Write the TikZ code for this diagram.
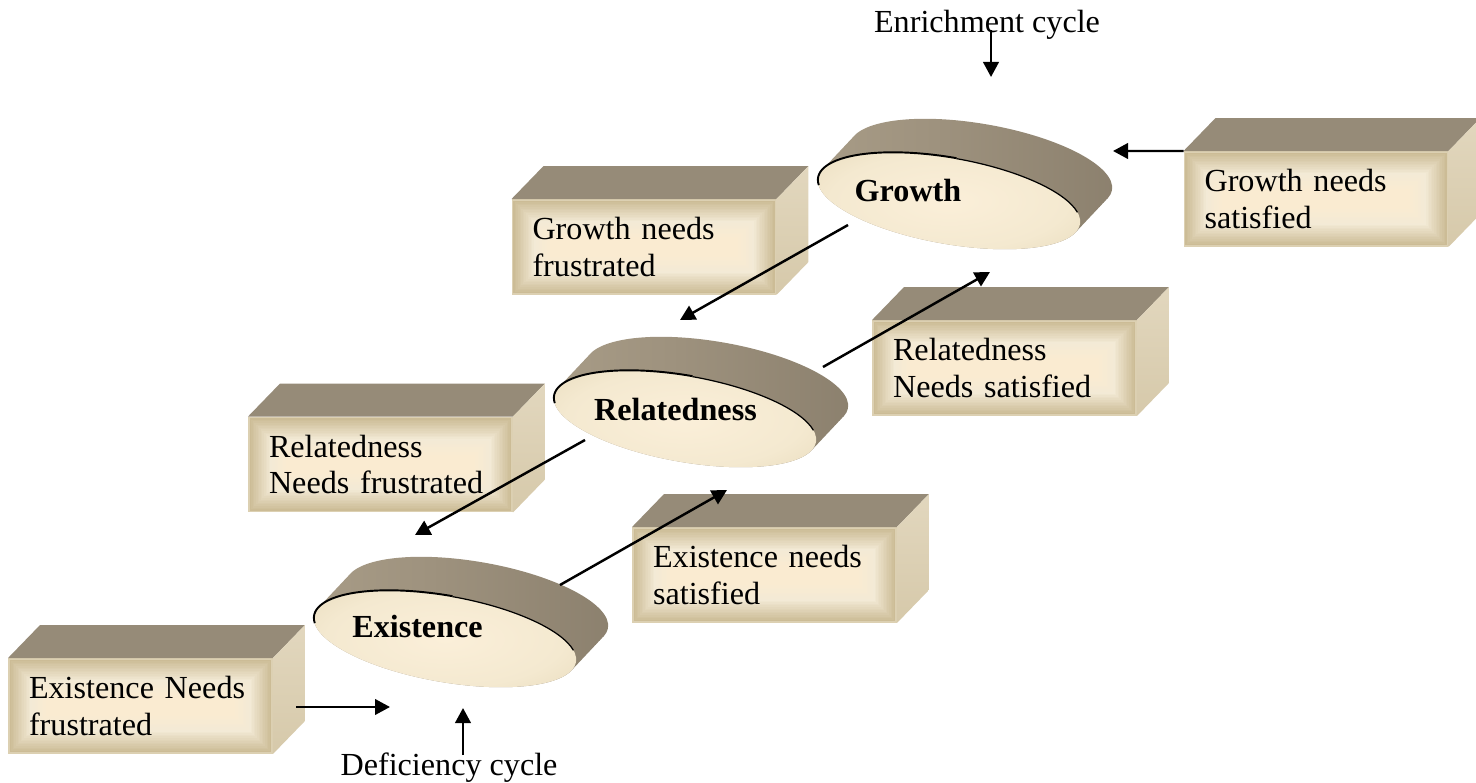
\documentclass[tikz,border=0pt]{standalone}
\usepackage{fontspec}
\setmainfont{Liberation Serif}
\usetikzlibrary{arrows.meta,calc}

% palette
\definecolor{topface}{RGB}{150,139,120}
\definecolor{sideface}{RGB}{226,215,190}
\definecolor{sidefacelo}{RGB}{214,201,170}
\definecolor{frontrim}{RGB}{220,208,178}
\definecolor{frontedge}{RGB}{204,188,150}
\definecolor{frontin}{RGB}{243,234,214}
\definecolor{frontmid}{RGB}{250,235,209}
\definecolor{facec}{RGB}{251,239,217}
\definecolor{facem}{RGB}{244,233,208}
\definecolor{facee}{RGB}{226,212,178}
\definecolor{bandA}{RGB}{212,201,176}
\definecolor{bandB}{RGB}{174,162,140}
\definecolor{bandC}{RGB}{158,146,126}
\definecolor{bandD}{RGB}{132,121,103}
\definecolor{bandE}{RGB}{152,141,120}

\pgfdeclareradialshading{discface}{\pgfpointorigin}{color(0bp)=(facec); color(22bp)=(facem); color(44bp)=(facee); color(50bp)=(facee)}
\pgfdeclarehorizontalshading{discband}{100bp}{color(0bp)=(bandA); color(14bp)=(bandB); color(45bp)=(bandC); color(86bp)=(bandD); color(100bp)=(bandE)}

\tikzset{
  boxfront/.style={rectangle, minimum width=5.3cm, minimum height=1.92cm,
    text width=4.46cm, inner xsep=0.42cm, inner ysep=0pt, outer sep=0pt,
    align=left, font=\fontsize{18.3}{20.8}\selectfont,
    path picture={
      \fill[frontrim] (path picture bounding box.south west) rectangle (path picture bounding box.north east);
      \foreach \i in {1,...,24}{
        \pgfmathsetmacro\p{\i<15 ? (\i-1)/13*100 : (\i-14)/10*100}
        \ifnum\i<15 \colorlet{ringc}{frontin!\p!frontedge}\else\colorlet{ringc}{frontmid!\p!frontin}\fi
        \fill[ringc] ([shift={(\i*1.6,\i*1.6)}]path picture bounding box.north west)
          rectangle ([shift={(-\i*1.6,-\i*1.6)}]path picture bounding box.south east);
      }
    }},
  disclabel/.style={font=\fontsize{18.3}{20.8}\selectfont\bfseries, inner sep=0pt, anchor=base},
  caption/.style={font=\fontsize{18.3}{20.8}\selectfont, inner sep=0pt, anchor=base},
  flow/.style={line width=1.4pt, -{Triangle[length=0.3cm, width=0.31cm]}},
}

% top and right faces of a box whose front face is node #1
\newcommand\boxsides[1]{%
  \fill[topface] (#1.north west) -- ++(32,-33) -- ($(#1.north east)+(32,-33)$) -- (#1.north east) -- cycle;
  \shade[top color=sideface, bottom color=sidefacelo] (#1.north east) -- ++(32,-33)
    -- ($(#1.south east)+(32,-33)$) -- (#1.south east) -- cycle;
}

% tilted disc: #1 name, #2 centre
\newcommand\disc[2]{%
  \coordinate (#1) at #2;
  \begin{scope}[shift={#2}, rotate=-10]
    \begin{scope}
      \clip \foreach \k in {0,...,16} {(\k*1.6,-\k*2.4375) ellipse [x radius=133, y radius=43]};
      \shade[shading=discband] (-135,-85) rectangle (162,46);
    \end{scope}
    \shade[shading=discface] (0,0) ellipse [x radius=133, y radius=43];
    \draw[line width=1.1pt] (-131,7) arc[start angle=170, end angle=270, x radius=133, y radius=43];
    \draw[line width=0.7pt] (0,-43) arc[start angle=270, end angle=345, x radius=133, y radius=43];
  \end{scope}
}

\begin{document}
\begin{tikzpicture}[x=0.02cm, y=-0.02cm]
\useasboundingbox (0,0) rectangle (1476,783);

% boxes
\node[boxfront] (gf) at (644,247) {Growth needs\\frustrated};
\boxsides{gf}
\node[boxfront] (gs) at (1316,199) {Growth needs\\satisfied};
\boxsides{gs}
\node[boxfront] (rs) at (1004.5,368) {Relatedness\\Needs satisfied};
\boxsides{rs}
\node[boxfront] (rf) at (380.5,464.5) {Relatedness\\Needs frustrated};
\boxsides{rf}
\node[boxfront] (es) at (764.5,575) {Existence needs\\satisfied};
\boxsides{es}
\node[boxfront] (ef) at (140.5,706) {Existence Needs\\frustrated};
\boxsides{ef}

% discs
\disc{growth}{(949,201)}
\disc{related}{(685,419)}
\disc{exist}{(445,639)}

\node[disclabel] (growth-label) at (908,202) {Growth};
\node[disclabel] (related-label) at (675.5,420) {Relatedness};
\node[disclabel] (exist-label) at (417.5,637) {Existence};

% captions
\node[caption] (enrich) at (987,33) {Enrichment cycle};
\node[caption] (deficit) at (449,775) {Deficiency cycle};

% arrow end points
\coordinate (enr-s) at (991,30);
\coordinate (enr-e) at (991,77);
\coordinate (gs-e) at (1113,151);
\coordinate (g-out) at (848,225);
\coordinate (r-in) at (680,320);
\coordinate (r-up) at (823,367);
\coordinate (g-in) at (990,272);
\coordinate (r-out) at (585,440);
\coordinate (e-in) at (415,535);
\coordinate (e-up) at (560,585);
\coordinate (r-in2) at (727,490);
\coordinate (ef-s) at (296,707);
\coordinate (e-left) at (390,707);
\coordinate (def-s) at (463,755);
\coordinate (def-e) at (463,708);

% arrows
\draw[flow] (enr-s) -- (enr-e);
\draw[flow] (gs.north west) -- (gs-e);
\draw[flow] (g-out) -- (r-in);
\draw[flow] (r-up) -- (g-in);
\draw[flow] (r-out) -- (e-in);
\draw[flow] (e-up) -- (r-in2);
\draw[flow] (ef-s) -- (e-left);
\draw[flow] (def-s) -- (def-e);
\end{tikzpicture}
\end{document}
